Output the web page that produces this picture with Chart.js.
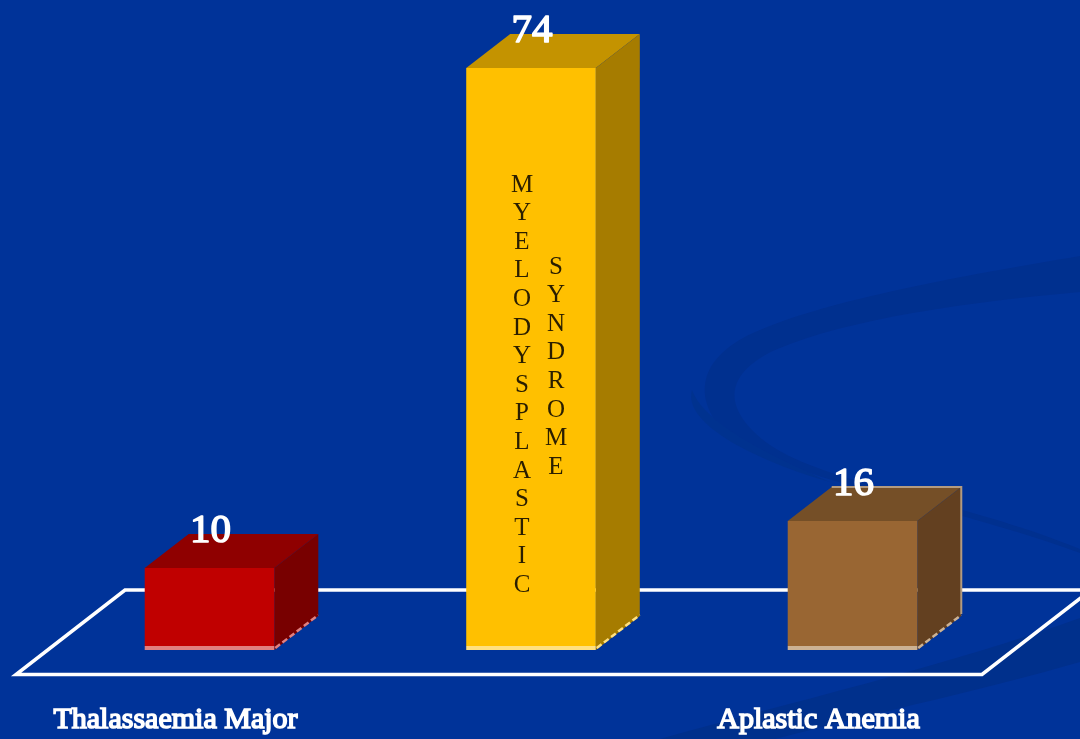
<!DOCTYPE html>
<html>
<head>
<meta charset="utf-8">
<style>
  html, body { margin: 0; padding: 0; background: #003399; overflow: hidden; }
  #wrap { position: relative; width: 1080px; height: 739px; }
</style>
<script src="https://cdn.jsdelivr.net/npm/chart.js@4/dist/chart.umd.min.js"></script>
</head>
<body>
<div id="wrap"><canvas id="chart" width="1080" height="739"></canvas></div>
<script>
// Patients by diagnosis
const categories = ['Thalassaemia Major', 'Myelodysplastic Syndrome', 'Aplastic Anemia'];
const patients = [10, 74, 16];

// Shades per bar
const frontColors = ['#C00000', '#FFC000', '#996633'];
const topColors = ['#8F0000', '#C49300', '#754F27'];
const sideColors = ['#780000', '#A67C00', '#634020'];
const edgeColors = ['#E08080', '#FFE080', '#CCB294'];

// Words stacked letter by letter on the tall bar
const verticalWords = [
  { text: 'MYELODYSPLASTIC', dx: -9, top: 185 },
  { text: 'SYNDROME', dx: 25, top: 267 }
];

const DEPTH_X = 44;
const DEPTH_Y = 34;
const LIP = 4;
const SERIF = '"Liberation Serif", serif';

function poly(ctx, pts, fill) {
  ctx.beginPath();
  pts.forEach((p, i) => i ? ctx.lineTo(p[0], p[1]) : ctx.moveTo(p[0], p[1]));
  ctx.closePath();
  ctx.fillStyle = fill;
  ctx.fill();
}

// Slide background with its two faint swooshes
const backdrop = {
  id: 'backdrop',
  beforeDraw(chart) {
    const ctx = chart.ctx;
    ctx.save();
    ctx.fillStyle = '#003399';
    ctx.fillRect(0, 0, chart.width, chart.height);

    ctx.fillStyle = '#00308F';
    ctx.beginPath();
    ctx.moveTo(1080, 256);
    ctx.bezierCurveTo(960, 276, 830, 300, 760, 330);
    ctx.bezierCurveTo(696, 356, 690, 400, 730, 438);
    ctx.bezierCurveTo(790, 480, 950, 505, 1080, 553);
    ctx.lineTo(1080, 549);
    ctx.bezierCurveTo(960, 500, 830, 485, 770, 445);
    ctx.bezierCurveTo(722, 410, 722, 375, 775, 350);
    ctx.bezierCurveTo(850, 318, 970, 302, 1080, 292);
    ctx.closePath();
    ctx.fill();

    ctx.fillStyle = '#00328F';
    ctx.beginPath();
    ctx.moveTo(692, 390);
    ctx.bezierCurveTo(682, 425, 760, 462, 830, 482);
    ctx.bezierCurveTo(770, 455, 705, 425, 692, 390);
    ctx.closePath();
    ctx.fill();

    ctx.fillStyle = '#00308C';
    ctx.beginPath();
    ctx.moveTo(660, 739);
    ctx.bezierCurveTo(780, 705, 950, 665, 1080, 618);
    ctx.lineTo(1080, 662);
    ctx.bezierCurveTo(990, 688, 880, 712, 775, 739);
    ctx.closePath();
    ctx.fill();
    ctx.restore();
  },
  // Floor outline behind the bars
  beforeDatasetsDraw(chart) {
    const ctx = chart.ctx;
    const base = chart.scales.y.getPixelForValue(0);
    const frontY = base + 28.5;
    const backY = base - 56;
    ctx.save();
    ctx.strokeStyle = '#FFFFFF';
    ctx.lineWidth = 3.5;
    ctx.lineJoin = 'miter';
    ctx.beginPath();
    ctx.moveTo(1100, backY);
    ctx.lineTo(125, backY);
    ctx.lineTo(16, frontY);
    ctx.lineTo(982, frontY);
    ctx.lineTo(1091, backY);
    ctx.stroke();
    ctx.restore();
  }
};

// Top and side faces, base highlight, value labels and the stacked words
const extrude = {
  id: 'extrude',
  beforeDatasetsDraw(chart) {
    const ctx = chart.ctx;
    const bars = chart.getDatasetMeta(0).data;
    ctx.save();
    bars.forEach((bar, i) => {
      const half = bar.width / 2;
      const l = bar.x - half, r = bar.x + half, t = bar.y, b = bar.base;
      poly(ctx, [[l, t], [l + DEPTH_X, t - DEPTH_Y], [r + DEPTH_X, t - DEPTH_Y], [r, t]], topColors[i]);
      poly(ctx, [[r, t], [r + DEPTH_X, t - DEPTH_Y], [r + DEPTH_X, b + LIP - DEPTH_Y], [r, b + LIP]], sideColors[i]);
      // Pale lip along the bottom and the receding edge
      poly(ctx, [[l, b], [r, b], [r, b + LIP], [l, b + LIP]], edgeColors[i]);
      ctx.strokeStyle = edgeColors[i];
      ctx.lineWidth = 2.5;
      ctx.setLineDash([6, 3]);
      ctx.beginPath();
      ctx.moveTo(r + 1, b + LIP - 2);
      ctx.lineTo(r + DEPTH_X, b + LIP - DEPTH_Y - 1);
      ctx.stroke();
      ctx.setLineDash([]);
    });
    // The brown box carries a thin tan outline on its far edges
    const last = bars[2];
    const farX = last.x + last.width / 2 + DEPTH_X;
    ctx.strokeStyle = '#B39B80';
    ctx.lineWidth = 2;
    ctx.beginPath();
    ctx.moveTo(last.x - last.width / 2 + DEPTH_X, last.y - DEPTH_Y);
    ctx.lineTo(farX, last.y - DEPTH_Y);
    ctx.lineTo(farX, last.base - DEPTH_Y + 2);
    ctx.stroke();
    ctx.restore();
  },
  afterDatasetsDraw(chart) {
    const ctx = chart.ctx;
    const bars = chart.getDatasetMeta(0).data;
    ctx.save();
    ctx.textAlign = 'center';
    ctx.textBaseline = 'alphabetic';

    ctx.font = '41px ' + SERIF;
    ctx.fillStyle = '#FFFFFF';
    ctx.strokeStyle = '#FFFFFF';
    ctx.lineWidth = 1.6;
    ctx.lineJoin = 'round';
    bars.forEach((bar, i) => {
      const label = String(patients[i]);
      ctx.fillText(label, bar.x + 1, bar.y - 26);
      ctx.strokeText(label, bar.x + 1, bar.y - 26);
    });

    const tall = bars[1];
    ctx.font = '25px ' + SERIF;
    ctx.fillStyle = '#2A1E00';
    ctx.textBaseline = 'middle';
    verticalWords.forEach(word => {
      [...word.text].forEach((ch, k) => {
        ctx.fillText(ch, tall.x + word.dx, word.top + k * 28.6);
      });
    });
    ctx.restore();
  }
};

new Chart(document.getElementById('chart'), {
  type: 'bar',
  data: {
    labels: categories,
    datasets: [{
      data: patients,
      backgroundColor: frontColors,
      borderWidth: 0,
      barPercentage: 0.403,
      categoryPercentage: 1
    }]
  },
  options: {
    responsive: false,
    animation: false,
    layout: { padding: { left: 48.75, right: 66.75, top: 21, bottom: 0 } },
    plugins: { legend: { display: false }, tooltip: { enabled: false } },
    scales: {
      x: {
        grid: { display: false, drawTicks: false },
        border: { display: false },
        afterFit(scale) { scale.height = 93; },
        ticks: {
          autoSkip: false,
          maxRotation: 0,
          minRotation: 0,
          padding: 56,
          labelOffset: -34,
          color: '#FFFFFF',
          textStrokeColor: '#FFFFFF',
          textStrokeWidth: 1.6,
          font: { family: SERIF, size: 30 },
          // The middle category is written on its bar instead
          callback(value, index) { return index === 1 ? '' : categories[index]; }
        }
      },
      y: { display: false, min: 0, max: 80 }
    }
  },
  plugins: [backdrop, extrude]
});
</script>
</body>
</html>
